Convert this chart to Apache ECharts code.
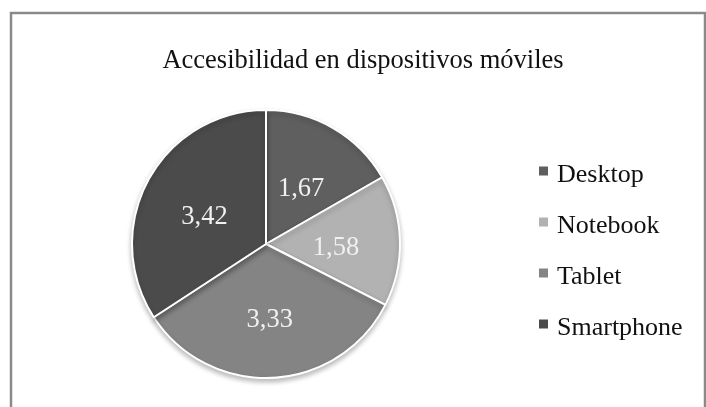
<!DOCTYPE html>
<html>
<head>
<meta charset="utf-8">
<script src="https://cdn.jsdelivr.net/npm/echarts@6/dist/echarts.min.js"></script>
<style>
html,body{margin:0;padding:0;background:#fff;}
#c{width:706px;height:407px;}
</style>
</head>
<body>
<div id="c"></div>
<script>
const titleText = 'Accesibilidad en dispositivos móviles';
const categories = ['Desktop', 'Notebook', 'Tablet', 'Smartphone'];
const values = [1.67, 1.58, 3.33, 3.42];
const colors = ['#5f5f5f', '#b2b2b2', '#848484', '#4b4b4b'];

const chart = echarts.init(document.getElementById('c'));
const font = '"Liberation Serif", "Times New Roman", serif';
chart.setOption({
  animation: false,
  backgroundColor: '#fff',
  graphic: [{
    type: 'rect',
    shape: { x: 11, y: 13, width: 694, height: 420 },
    style: { fill: 'none', stroke: '#8a8a8a', lineWidth: 2.5 },
    silent: true
  }],
  title: {
    text: titleText,
    left: 358, top: 43, textAlign: 'center',
    textStyle: { fontFamily: font, fontSize: 26.5, fontWeight: 'normal', color: '#111' }
  },
  legend: {
    orient: 'vertical',
    left: 532, top: 157,
    itemWidth: 11, itemHeight: 19,
    itemGap: 25,
    icon: 'path://M0,0L11,0L11,11L0,11Z M0,19',
    textStyle: { fontFamily: font, fontSize: 26, color: '#111', padding: [0,0,0,3] },
    data: categories
  },
  series: [{
    type: 'pie',
    center: [266, 244],
    radius: [0, 134],
    startAngle: 90,
    clockwise: true,
    color: colors,
    itemStyle: {
      borderColor: '#fff', borderWidth: 2,
      shadowBlur: 5, shadowOffsetY: 3, shadowColor: 'rgba(0,0,0,0.25)'
    },
    label: {
      show: true, position: 'inside',
      offset: [0, 6],
      fontFamily: font, fontSize: 26.5, color: '#f0f0f0',
      formatter: p => p.value.toFixed(2).replace('.', ',')
    },
    labelLine: { show: false },
    emphasis: { disabled: true },
    data: categories.map((c, i) => ({ name: c, value: values[i] }))
  }]
});
</script>
</body>
</html>
